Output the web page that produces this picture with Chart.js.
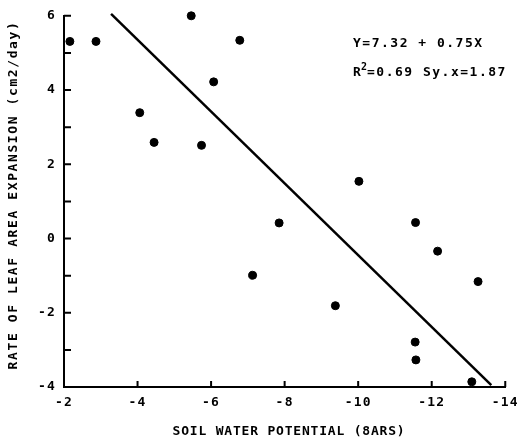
<!DOCTYPE html>
<html>
<head>
<meta charset="utf-8">
<script src="https://cdn.jsdelivr.net/npm/chart.js@4.4.0/dist/chart.umd.min.js"></script>
<style>
  html, body { margin: 0; padding: 0; background: #fff; }
  #wrap { width: 525px; height: 440px; }
</style>
</head>
<body>
<div id="wrap"><canvas id="grafico"></canvas></div>
<script>
// valores
const potencial = [-2.16, -2.87, -5.46, -6.78, -6.07, -4.06, -4.45, -5.74, -10.02, -7.85, -11.56, -12.16, -13.26, -9.38, -11.55, -11.57, -13.09, -7.13];
const taxa = [5.31, 5.31, 6.0, 5.34, 4.22, 3.39, 2.59, 2.51, 1.54, 0.42, 0.43, -0.34, -1.16, -1.81, -2.79, -3.27, -3.86, -0.99];
const retaX = [-3.28, -13.62];
const retaY = [6.05, -3.95];
const xTicks = [-2, -4, -6, -8, -10, -12, -14];
const yTicks = [-4, -3, -2, -1, 0, 1, 2, 3, 4, 5, 6];
const yLabels = [-4, -2, 0, 2, 4, 6];

const fonte = "'DejaVu Sans Mono', 'Liberation Mono', monospace";

const pontos = potencial.map((x, i) => ({ x: x, y: taxa[i] }));
const reta = retaX.map((x, i) => ({ x: x, y: retaY[i] }));

// marcas dos eixos para dentro + textos
const extras = {
  id: 'extras',
  beforeDraw(chart) {
    chart.ctx.letterSpacing = '1.2px';
  },
  afterDraw(chart) {
    const ctx = chart.ctx;
    const area = chart.chartArea;
    const sx = chart.scales.x;
    const sy = chart.scales.y;

    ctx.save();
    ctx.strokeStyle = '#000';
    ctx.lineWidth = 2;
    ctx.beginPath();
    xTicks.forEach((v) => {
      const px = sx.getPixelForValue(v);
      ctx.moveTo(px, area.bottom);
      ctx.lineTo(px, area.bottom - 6);
    });
    yTicks.forEach((v) => {
      const py = sy.getPixelForValue(v);
      ctx.moveTo(area.left, py);
      ctx.lineTo(area.left + 7, py);
    });
    ctx.stroke();

    ctx.fillStyle = '#000';
    ctx.textBaseline = 'middle';

    // titulo do eixo y
    ctx.save();
    ctx.translate(14, 195);
    ctx.rotate(-Math.PI / 2);
    ctx.textAlign = 'center';
    ctx.font = 'bold 13px ' + fonte;
    ctx.letterSpacing = '1.6px';
    ctx.fillText('RATE OF LEAF AREA EXPANSION (cm2/day)', 0, 0);
    ctx.restore();

    // titulo do eixo x
    ctx.textAlign = 'center';
    ctx.font = 'bold 13px ' + fonte;
    ctx.letterSpacing = '0.8px';
    ctx.fillText('SOIL WATER POTENTIAL (8ARS)', 289, 432);

    // equacao
    ctx.textAlign = 'left';
    ctx.letterSpacing = '1.5px';
    ctx.fillText('Y=7.32 + 0.75X', 353, 44);
    ctx.fillText('R', 353, 73);
    ctx.font = 'bold 10px ' + fonte;
    ctx.letterSpacing = '0px';
    ctx.fillText('2', 361, 67);
    ctx.font = 'bold 13px ' + fonte;
    ctx.letterSpacing = '1.5px';
    ctx.fillText('=0.69 Sy.x=1.87', 367, 73);
    ctx.restore();
  }
};

new Chart(document.getElementById('grafico'), {
  type: 'scatter',
  data: {
    datasets: [
      {
        label: 'medidas',
        data: pontos,
        backgroundColor: '#000',
        borderColor: '#000',
        pointRadius: 4,
        pointHoverRadius: 4,
        clip: false
      },
      {
        label: 'regressao',
        type: 'line',
        data: reta,
        borderColor: '#000',
        borderWidth: 2.5,
        pointRadius: 0,
        fill: false,
        clip: false
      }
    ]
  },
  options: {
    responsive: true,
    maintainAspectRatio: false,
    animation: false,
    layout: { padding: { top: 12, right: 13, left: 0, bottom: 0 } },
    plugins: {
      legend: { display: false },
      tooltip: { enabled: false }
    },
    scales: {
      x: {
        type: 'linear',
        min: -14,
        max: -2,
        reverse: true,
        afterBuildTicks: (scale) => { scale.ticks = xTicks.map((v) => ({ value: v })); },
        afterFit: (scale) => { scale.height = 53; },
        grid: { display: false, drawTicks: false },
        border: { display: true, color: '#000', width: 2 },
        ticks: {
          color: '#000',
          padding: 8,
          maxRotation: 0,
          font: { family: fonte, size: 13, weight: 'bold' }
        }
      },
      y: {
        min: -4,
        max: 6,
        afterBuildTicks: (scale) => { scale.ticks = yTicks.map((v) => ({ value: v })); },
        afterFit: (scale) => { scale.width = 64; },
        grid: { display: false, drawTicks: false },
        border: { display: true, color: '#000', width: 2 },
        ticks: {
          color: '#000',
          padding: 8,
          autoSkip: false,
          font: { family: fonte, size: 13, weight: 'bold' },
          callback: (v) => (yLabels.includes(v) ? String(v) : '')
        }
      }
    }
  },
  plugins: [extras]
});
</script>
</body>
</html>
